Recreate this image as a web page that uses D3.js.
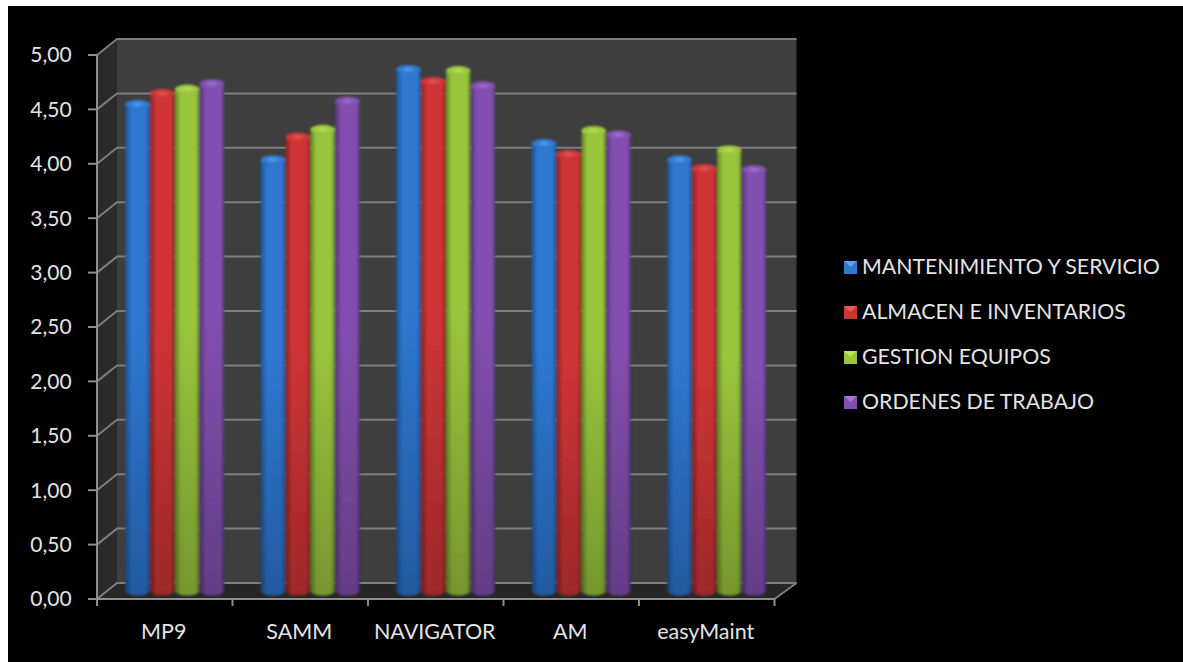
<!DOCTYPE html>
<html lang="es">
<head>
<meta charset="utf-8">
<title>Comparativa de software de mantenimiento</title>
<script src="https://cdn.jsdelivr.net/npm/d3@7/dist/d3.min.js"></script>
<style>
  html, body { margin: 0; padding: 0; background: #fff; }
  svg { display: block; }
  text { font-family: Lato, "Open Sans", sans-serif; fill: #e4e4e4; }
</style>
</head>
<body>
<svg id="chart" width="1183" height="662"></svg>
<script>
const products = ["MP9", "SAMM", "NAVIGATOR", "AM", "easyMaint"];
const seriesNames = ["MANTENIMIENTO Y SERVICIO", "ALMACEN E INVENTARIOS", "GESTION EQUIPOS", "ORDENES DE TRABAJO"];
const mantenimiento = [4.51, 4.00, 4.83, 4.15, 4.00];
const almacen = [4.61, 4.21, 4.72, 4.05, 3.92];
const gestion = [4.65, 4.28, 4.82, 4.27, 4.09];
const ordenes = [4.70, 4.54, 4.68, 4.23, 3.91];
const seriesValues = [mantenimiento, almacen, gestion, ordenes];
const yTicks = [0, 0.5, 1, 1.5, 2, 2.5, 3, 3.5, 4, 4.5, 5];
// mid, light, dark tone of each cylinder
const palette = [
  ["#2e78d2", "#5aa2ea", "#1d5596"],
  ["#d03535", "#e65a5a", "#8e2222"],
  ["#9ac63d", "#bce25e", "#648a26"],
  ["#8350b0", "#a577d2", "#583580"]
];

const svg = d3.select("#chart");
const defs = svg.append("defs");

// Depth of the 3D box, in screen pixels
const depthX = 20, depthY = -16;
const x = d3.scaleBand().domain(products).range([97, 774.5]).paddingInner(0.27).paddingOuter(0.135);
const y = d3.scaleLinear().domain([0, 5]).range([599, 55]);
const inner = d3.scaleBand().domain(d3.range(seriesNames.length)).range([0, x.bandwidth()]).paddingInner(0.02);

// Cylinder gradients, dark at the edges and bright just left of centre
palette.forEach((c, i) => {
  const g = defs.append("linearGradient").attr("id", `cyl${i}`);
  [[0, c[2]], [0.25, c[0]], [0.85, c[0]], [1, c[2]]].forEach(([o, col]) =>
    g.append("stop").attr("offset", o).attr("stop-color", col));
  const cap = defs.append("radialGradient").attr("id", `cap${i}`);
  [[0, c[1]], [0.7, c[0]], [1, c[0]]].forEach(([o, col]) =>
    cap.append("stop").attr("offset", o).attr("stop-color", col));
});
// Cylinders darken slightly towards the floor
const fade = defs.append("linearGradient").attr("id", "fade").attr("x1", 0).attr("x2", 0).attr("y1", 0).attr("y2", 1);
fade.append("stop").attr("offset", 0.45).attr("stop-color", "#000").attr("stop-opacity", 0);
fade.append("stop").attr("offset", 1).attr("stop-color", "#000").attr("stop-opacity", 0.24);
defs.append("filter").attr("id", "soft")
  .attr("x", "-5%").attr("y", "-5%").attr("width", "110%").attr("height", "110%")
  .append("feGaussianBlur").attr("stdDeviation", 0.8);

// Black slide area; the page shows white along its top and left edges
svg.append("rect").attr("x", 8).attr("y", 6).attr("width", 1175).attr("height", 656).attr("fill", "#000");

const [y0, yMax] = y.range();
const xL = x.range()[0], xR = x.range()[1];
const box = svg.append("g");

// Back wall, side wall and floor
box.append("polygon").attr("fill", "#3e3e3e")
  .attr("points", [[xL + depthX, yMax + depthY], [xR + depthX + 2, yMax + depthY], [xR + depthX + 2, y0 + depthY], [xL + depthX, y0 + depthY]].join(" "));
box.append("polygon").attr("fill", "#2a2a2a")
  .attr("points", [[xL, yMax], [xL + depthX, yMax + depthY], [xL + depthX, y0 + depthY], [xL, y0]].join(" "));
box.append("polygon").attr("fill", "#262626")
  .attr("points", [[xL, y0], [xL + depthX, y0 + depthY], [xR + depthX + 2, y0 + depthY], [xR, y0]].join(" "));

// Gridlines run along the side wall and across the back wall
const gridColor = "#7e7e7e";
box.selectAll("path.grid").data(yTicks).join("path")
  .attr("class", "grid").attr("fill", "none").attr("stroke", gridColor).attr("stroke-width", 2)
  .attr("d", d => d3.line()([[xL, y(d)], [xL + depthX, y(d) + depthY], [xR + depthX + 2, y(d) + depthY]]));
box.append("path").attr("fill", "none").attr("stroke", gridColor).attr("stroke-width", 2)
  .attr("d", d3.line()([[xR, y0], [xR + depthX + 2, y0 + depthY]]));

// Front axes with their outward tick marks
const axisColor = "#8e8e8e";
const axes = svg.append("g").attr("stroke", axisColor).attr("stroke-width", 2).attr("fill", "none");
axes.append("path").attr("d", d3.line()([[xL, yMax], [xL, y0], [xR, y0]]));
axes.selectAll("line.ty").data(yTicks).join("line").attr("class", "ty")
  .attr("x1", xL - 9).attr("x2", xL).attr("y1", d => y(d)).attr("y2", d => y(d));
const xTickPositions = [...products.map(p => x(p) - x.step() * x.paddingInner() / 2), xR];
axes.selectAll("line.tx").data(xTickPositions).join("line").attr("class", "tx")
  .attr("x1", d => d).attr("x2", d => d).attr("y1", y0).attr("y2", y0 + 7);

// Cylinders sit mid-depth on the floor; caps are ellipses at the value height
const capRy = 4.5, barLiftX = 10, capLift = 4, baseLift = 8;
const bars = svg.append("g").attr("filter", "url(#soft)");
products.forEach((p, pi) => {
  seriesValues.forEach((vals, si) => {
    const bx = x(p) + inner(si) + barLiftX;
    const w = inner.bandwidth();
    const rx = w / 2;
    const top = y(vals[pi]) - capLift;
    const base = y0 - baseLift;
    const body = `M${bx},${top}L${bx},${base}A${rx},${capRy} 0 0 0 ${bx + w},${base}L${bx + w},${top}Z`;
    const g = bars.append("g");
    g.append("path").attr("fill", `url(#cyl${si})`).attr("d", body);
    g.append("path").attr("fill", "url(#fade)").attr("d", body);
    g.append("ellipse").attr("cx", bx + rx).attr("cy", top).attr("rx", rx).attr("ry", capRy)
      .attr("fill", `url(#cap${si})`);
  });
});

// Value axis labels
svg.append("g").selectAll("text").data(yTicks).join("text")
  .attr("x", 51).attr("y", d => y(d)).attr("dy", "0.35em").attr("text-anchor", "middle")
  .attr("font-size", 21)
  .text(d => d3.format(".2f")(d).replace(".", ","));

// Category labels
svg.append("g").selectAll("text").data(products).join("text")
  .attr("x", d => x(d) + x.bandwidth() / 2 - 1).attr("y", 639).attr("text-anchor", "middle")
  .attr("font-size", 21.5)
  .text(d => d);

// Legend
const legend = svg.append("g");
const legendY = d3.scalePoint().domain(seriesNames).range([267, 402]);
seriesNames.forEach((name, i) => {
  const ly = legendY(name);
  const c = palette[i];
  legend.append("rect").attr("x", 844).attr("y", ly - 6).attr("width", 13).attr("height", 13).attr("fill", c[0]);
  legend.append("path").attr("fill", c[1]).attr("d", `M844,${ly - 6}h13l-6.5,6z`);
  legend.append("text").attr("x", 862).attr("y", ly).attr("dy", "0.35em").attr("font-size", 21.3).text(name);
});
</script>
</body>
</html>
